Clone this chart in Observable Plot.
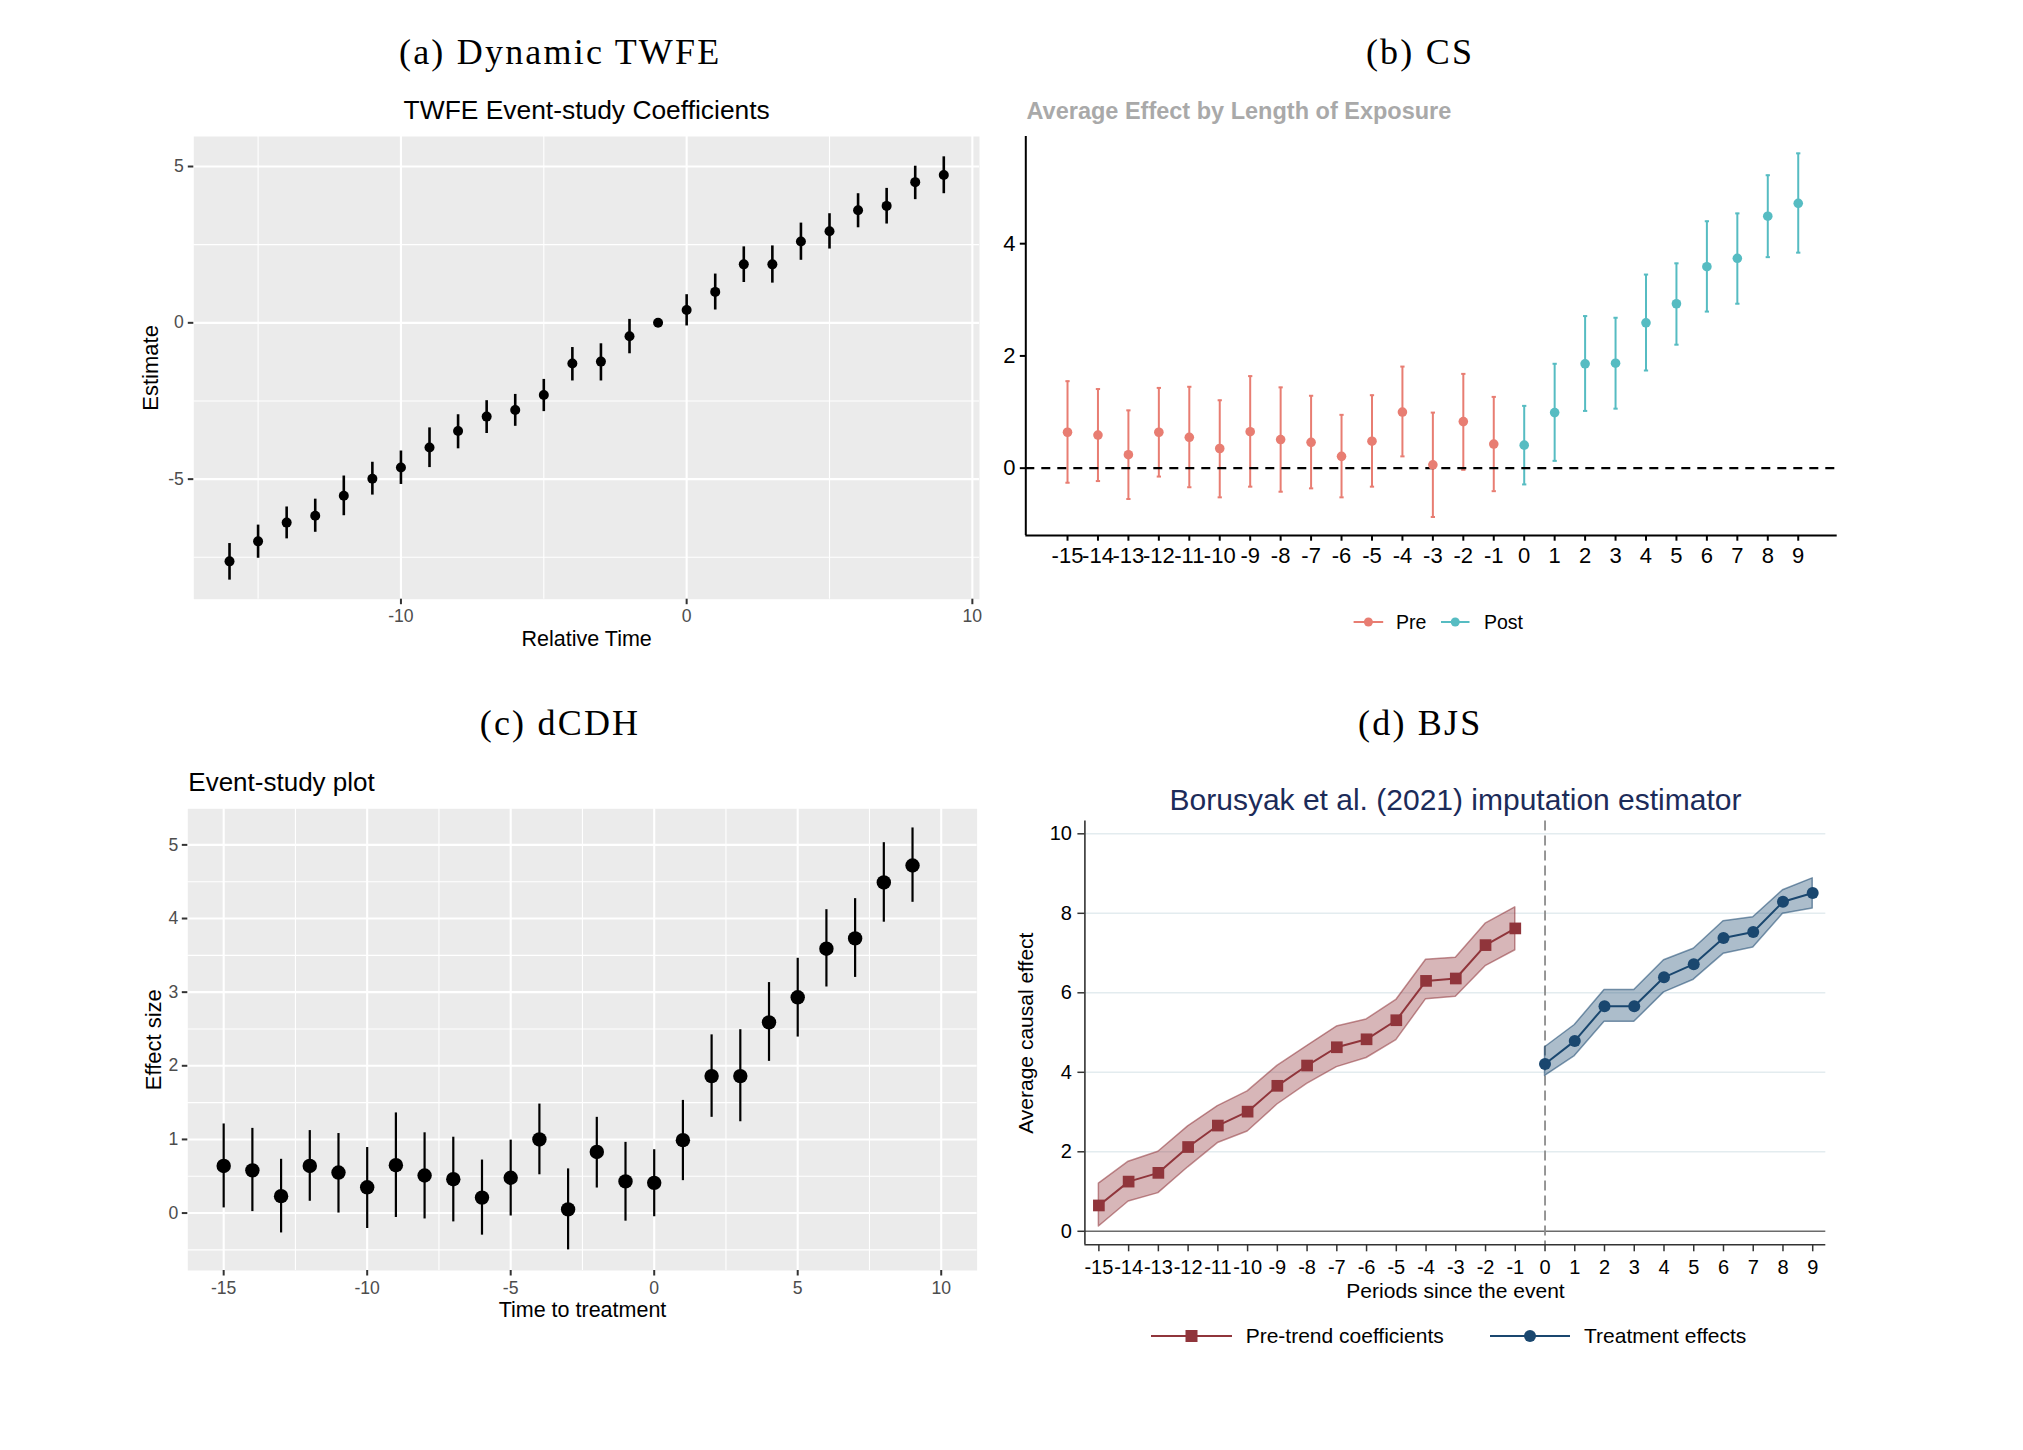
<!DOCTYPE html>
<html>
<head>
<meta charset="utf-8">
<script src="https://cdn.jsdelivr.net/npm/d3@7"></script>
<script src="https://cdn.jsdelivr.net/npm/@observablehq/plot@0.6"></script>
<style>
  body { margin: 0; background: #fff; }
  #root { position: relative; width: 2023px; height: 1450px; background: #fff; overflow: hidden; }
  #root svg { position: absolute; left: 0; top: 0; }
</style>
</head>
<body>
<div id="root"></div>
<script>
// ---------------- DATA ----------------
// (a) Dynamic TWFE
const twfeTime = [-16,-15,-14,-13,-12,-11,-10,-9,-8,-7,-6,-5,-4,-3,-2,-1,0,1,2,3,4,5,6,7,8,9];
const twfeEst  = [-7.63,-6.99,-6.39,-6.17,-5.53,-4.99,-4.63,-3.99,-3.46,-3.00,-2.79,-2.31,-1.30,-1.24,-0.43,0,0.41,0.99,1.87,1.87,2.60,2.93,3.60,3.74,4.50,4.73];
const twfeLow  = [-8.23,-7.53,-6.91,-6.70,-6.17,-5.51,-5.17,-4.63,-4.03,-3.54,-3.31,-2.84,-1.86,-1.86,-0.99,null,-0.10,0.41,1.29,1.27,2.00,2.36,3.04,3.16,3.94,4.13];
const twfeHigh = [-7.06,-6.47,-5.89,-5.64,-4.90,-4.46,-4.10,-3.36,-2.94,-2.49,-2.29,-1.81,-0.79,-0.67,0.11,null,0.90,1.56,2.43,2.46,3.19,3.49,4.13,4.30,5.01,5.31];
const twfeYTicks = [-5, 0, 5];
const twfeYMinor = [-7.5, -2.5, 2.5];
const twfeXTicks = [-10, 0, 10];
const twfeXMinor = [-15, -5, 5];

// (b) CS
const csTime = [-15,-14,-13,-12,-11,-10,-9,-8,-7,-6,-5,-4,-3,-2,-1,0,1,2,3,4,5,6,7,8,9];
const csEst  = [0.64,0.59,0.24,0.64,0.55,0.35,0.65,0.51,0.46,0.21,0.48,1.00,0.06,0.83,0.43,0.41,0.99,1.86,1.87,2.59,2.93,3.59,3.74,4.49,4.72];
const csLow  = [-0.26,-0.23,-0.55,-0.15,-0.34,-0.52,-0.33,-0.42,-0.36,-0.52,-0.33,0.21,-0.87,-0.03,-0.41,-0.29,0.13,1.02,1.06,1.74,2.20,2.79,2.93,3.76,3.84];
const csHigh = [1.55,1.41,1.03,1.43,1.45,1.21,1.64,1.44,1.29,0.95,1.30,1.81,0.99,1.68,1.27,1.11,1.86,2.71,2.68,3.45,3.65,4.40,4.54,5.22,5.61];
const csGroup = ["Pre","Pre","Pre","Pre","Pre","Pre","Pre","Pre","Pre","Pre","Pre","Pre","Pre","Pre","Pre","Post","Post","Post","Post","Post","Post","Post","Post","Post","Post"];
const csYTicks = [0, 2, 4];
const csXTicks = [-15,-14,-13,-12,-11,-10,-9,-8,-7,-6,-5,-4,-3,-2,-1,0,1,2,3,4,5,6,7,8,9];
const csGroups = ["Pre", "Post"];

// (c) dCDH
const dcdhTime = [-15,-14,-13,-12,-11,-10,-9,-8,-7,-6,-5,-4,-3,-2,-1,0,1,2,3,4,5,6,7,8,9];
const dcdhEst  = [0.64,0.58,0.23,0.64,0.55,0.35,0.65,0.51,0.46,0.21,0.48,1.00,0.05,0.83,0.43,0.41,0.99,1.86,1.86,2.59,2.93,3.59,3.73,4.49,4.72];
const dcdhLow  = [0.07,0.02,-0.27,0.16,0.00,-0.21,-0.06,-0.08,-0.12,-0.30,-0.04,0.52,-0.50,0.34,-0.11,-0.05,0.44,1.30,1.24,2.06,2.39,3.07,3.20,3.95,4.22];
const dcdhHigh = [1.21,1.15,0.73,1.12,1.08,0.89,1.36,1.09,1.03,0.72,0.99,1.48,0.60,1.30,0.96,0.86,1.53,2.42,2.49,3.13,3.46,4.12,4.27,5.03,5.23];
const dcdhYTicks = [0, 1, 2, 3, 4, 5];
const dcdhYMinor = [-0.5, 0.5, 1.5, 2.5, 3.5, 4.5];
const dcdhXTicks = [-15, -10, -5, 0, 5, 10];
const dcdhXMinor = [-12.5, -7.5, -2.5, 2.5, 7.5];

// (d) BJS
const bjsPreTime = [-15,-14,-13,-12,-11,-10,-9,-8,-7,-6,-5,-4,-3,-2,-1];
const bjsPreEst  = [0.65,1.25,1.47,2.12,2.66,3.01,3.66,4.17,4.63,4.83,5.31,6.30,6.36,7.20,7.62];
const bjsPreLow  = [0.12,0.75,0.96,1.61,2.22,2.51,3.19,3.71,4.13,4.36,4.81,5.84,5.90,6.67,7.07];
const bjsPreHigh = [1.20,1.75,2.00,2.64,3.15,3.52,4.16,4.66,5.15,5.33,5.82,6.83,6.88,7.74,8.15];
const bjsPostTime = [0,1,2,3,4,5,6,7,8,9];
const bjsPostEst  = [4.21,4.79,5.66,5.66,6.39,6.72,7.38,7.53,8.29,8.51];
const bjsPostLow  = [3.91,4.41,5.27,5.27,6.01,6.33,6.98,7.14,7.99,8.12];
const bjsPostHigh = [4.63,5.19,6.07,6.07,6.82,7.11,7.80,7.90,8.58,8.88];
const bjsYTicks = [0, 2, 4, 6, 8, 10];
const bjsGrid = [2, 4, 6, 8, 10];
const bjsXTicks = [-15,-14,-13,-12,-11,-10,-9,-8,-7,-6,-5,-4,-3,-2,-1,0,1,2,3,4,5,6,7,8,9];

// ---------------- LAYOUT / STYLE ----------------
const W = 2023, H = 1450;
const SANS = "'Liberation Sans', Arial, Helvetica, sans-serif";
const SERIF = "'Liberation Serif', 'Times New Roman', serif";
const PRE_COL = "#e87d72", POST_COL = "#56bcc2";
const MAROON = "#90353B", NAVY = "#1A476F";
const fmt = d => String(d);

const frameA = {left: 193.3, top: 136, right: 979, bottom: 598.7};
const frameB = {left: 1025.3, top: 136, right: 1836.7, bottom: 535};
const frameC = {left: 187.3, top: 808.3, right: 976.6, bottom: 1270};
const frameD = {left: 1084.4, top: 820.6, right: 1825.3, bottom: 1244.3};

const domA = {x: [-17.25, 10.25], y: [-8.84, 5.96]};
const domB = {x: [-16.37, 10.28], y: [-1.2, 5.91]};
const domC = {x: [-16.25, 11.25], y: [-0.78, 5.49]};
const domD = {x: [-15.47, 9.44], y: [-0.34, 10.32]};

const zip = (t, e, l, h, g) => t.map((v, i) => ({t: v, est: e[i], lo: l[i], hi: h[i], g: g ? g[i] : null}));
const rowsA = zip(twfeTime, twfeEst, twfeLow, twfeHigh);
const rowsB = zip(csTime, csEst, csLow, csHigh, csGroup);
const rowsC = zip(dcdhTime, dcdhEst, dcdhLow, dcdhHigh);
const rowsDpre = zip(bjsPreTime, bjsPreEst, bjsPreLow, bjsPreHigh);
const rowsDpost = zip(bjsPostTime, bjsPostEst, bjsPostLow, bjsPostHigh);

const root = document.getElementById("root");

const place = frame => (txt, x, y, o = {}) => Plot.text([txt], {
  text: d => d, frameAnchor: "top-left", dx: x - frame.left, dy: y - frame.top,
  textAnchor: "middle", lineAnchor: "middle", fill: "#000", fontFamily: SANS, ...o
});

function panel(frame, dom, marks, extra = {}) {
  const svg = Plot.plot({
    width: W, height: H,
    marginLeft: frame.left, marginTop: frame.top,
    marginRight: W - frame.right, marginBottom: H - frame.bottom,
    x: {domain: dom.x, axis: null},
    y: {domain: dom.y, axis: null},
    style: {fontFamily: SANS, background: "transparent", overflow: "visible"},
    ...extra,
    marks
  });
  svg.querySelectorAll("text").forEach(t => {
    if (/^\([abcd]\) /.test(t.textContent)) t.style.letterSpacing = "2.2px";
  });
  root.appendChild(svg);
}

const serifTitle = {fontFamily: SERIF, fontSize: 36};

// ---------------- (a) ----------------
{
  const T = place(frameA);
  panel(frameA, domA, [
    Plot.frame({fill: "#EBEBEB", stroke: "none"}),
    Plot.gridY(twfeYMinor, {stroke: "#fff", strokeOpacity: 1, strokeWidth: 1.1}),
    Plot.gridX(twfeXMinor, {stroke: "#fff", strokeOpacity: 1, strokeWidth: 1.1}),
    Plot.gridY(twfeYTicks, {stroke: "#fff", strokeOpacity: 1, strokeWidth: 2.1}),
    Plot.gridX(twfeXTicks, {stroke: "#fff", strokeOpacity: 1, strokeWidth: 2.1}),
    Plot.axisY(twfeYTicks, {tickSize: 5.5, tickPadding: 4.5, fontSize: 17.6, stroke: "#333333", fill: "#4D4D4D", strokeWidth: 2, label: null, tickFormat: fmt}),
    Plot.axisX(twfeXTicks, {tickSize: 5.5, tickPadding: 5, fontSize: 17.6, stroke: "#333333", fill: "#4D4D4D", strokeWidth: 2, label: null, tickFormat: fmt}),
    Plot.ruleX(rowsA.filter(d => d.lo != null), {x: "t", y1: "lo", y2: "hi", stroke: "#000", strokeWidth: 2.6}),
    Plot.dot(rowsA, {x: "t", y: "est", r: 5, fill: "#000"}),
    T("(a) Dynamic TWFE", 559.7, 51.5, serifTitle),
    T("TWFE Event-study Coefficients", 586.2, 110.5, {fontSize: 26.4}),
    T("Estimate", 150.8, 367.4, {fontSize: 22, rotate: -90}),
    T("Relative Time", 586.2, 638.3, {fontSize: 21.5})
  ]);
}

// ---------------- (b) ----------------
{
  const T = place(frameB);
  panel(frameB, domB, [
    Plot.ruleX([domB.x[0]], {stroke: "#000", strokeWidth: 2}),
    Plot.ruleY([domB.y[0]], {stroke: "#000", strokeWidth: 2}),
    Plot.axisY(csYTicks, {tickSize: 5.5, tickPadding: 4.8, fontSize: 22, stroke: "#000", fill: "#000", strokeWidth: 2, label: null, tickFormat: fmt}),
    Plot.axisX(csXTicks, {tickSize: 5.7, tickPadding: 6, fontSize: 22, stroke: "#000", fill: "#000", strokeWidth: 2, label: null, tickFormat: fmt}),
    Plot.ruleX(rowsB, {x: "t", y1: "lo", y2: "hi", stroke: "g", strokeWidth: 2}),
    Plot.link(rowsB, {x1: d => d.t - 0.07, x2: d => d.t + 0.07, y1: "hi", y2: "hi", stroke: "g", strokeWidth: 2}),
    Plot.link(rowsB, {x1: d => d.t - 0.07, x2: d => d.t + 0.07, y1: "lo", y2: "lo", stroke: "g", strokeWidth: 2}),
    Plot.ruleY([0], {stroke: "#000", strokeWidth: 2.2, strokeDasharray: "9,7"}),
    Plot.dot(rowsB, {x: "t", y: "est", r: 4.8, fill: "g"}),
    T("(b) CS", 1419.5, 51.5, serifTitle),
    T("Average Effect by Length of Exposure", 1026, 110.8, {fontSize: 23.5, fontWeight: "bold", fill: "#A9A9A9", textAnchor: "start"})
  ], {color: {domain: csGroups, range: [PRE_COL, POST_COL]}});
}

// ---------------- (c) ----------------
{
  const T = place(frameC);
  panel(frameC, domC, [
    Plot.frame({fill: "#EBEBEB", stroke: "none"}),
    Plot.gridY(dcdhYMinor, {stroke: "#fff", strokeOpacity: 1, strokeWidth: 1.1}),
    Plot.gridX(dcdhXMinor, {stroke: "#fff", strokeOpacity: 1, strokeWidth: 1.1}),
    Plot.gridY(dcdhYTicks, {stroke: "#fff", strokeOpacity: 1, strokeWidth: 2.1}),
    Plot.gridX(dcdhXTicks, {stroke: "#fff", strokeOpacity: 1, strokeWidth: 2.1}),
    Plot.axisY(dcdhYTicks, {tickSize: 5.5, tickPadding: 4.1, fontSize: 17.6, stroke: "#333333", fill: "#4D4D4D", strokeWidth: 2, label: null, tickFormat: fmt}),
    Plot.axisX(dcdhXTicks, {tickSize: 5.5, tickPadding: 5, fontSize: 17.6, stroke: "#333333", fill: "#4D4D4D", strokeWidth: 2, label: null, tickFormat: fmt}),
    Plot.ruleX(rowsC, {x: "t", y1: "lo", y2: "hi", stroke: "#000", strokeWidth: 2.2}),
    Plot.dot(rowsC, {x: "t", y: "est", r: 7.2, fill: "#000"}),
    T("(c) dCDH", 559.5, 722.5, serifTitle),
    T("Event-study plot", 187.8, 782.2, {fontSize: 26, textAnchor: "start"}),
    T("Effect size", 153.2, 1039.2, {fontSize: 22, rotate: -90}),
    T("Time to treatment", 582, 1309.8, {fontSize: 21.5})
  ]);
}

// ---------------- (d) ----------------
{
  const T = place(frameD);
  panel(frameD, domD, [
    Plot.gridY(bjsGrid, {stroke: "#E3ECEF", strokeOpacity: 1, strokeWidth: 1.4}),
    Plot.ruleY([0], {stroke: "#6b6b6b", strokeWidth: 1.4}),
    Plot.ruleX([0], {stroke: "#8c8c8c", strokeWidth: 1.8, strokeDasharray: "10,5"}),
    Plot.ruleX([domD.x[0]], {stroke: "#333", strokeWidth: 1.6}),
    Plot.ruleY([domD.y[0]], {stroke: "#333", strokeWidth: 1.6}),
    Plot.axisY(bjsYTicks, {tickSize: 7, tickPadding: 6, fontSize: 20, stroke: "#333", fill: "#000", strokeWidth: 1.5, label: null, tickFormat: fmt}),
    Plot.axisX(bjsXTicks, {tickSize: 7, tickPadding: 8.3, fontSize: 20, stroke: "#333", fill: "#000", strokeWidth: 1.5, label: null, tickFormat: fmt}),
    Plot.areaY(rowsDpre, {x: "t", y1: "lo", y2: "hi", fill: MAROON, fillOpacity: 0.36, stroke: MAROON, strokeOpacity: 0.55, strokeWidth: 1.5}),
    Plot.areaY(rowsDpost, {x: "t", y1: "lo", y2: "hi", fill: NAVY, fillOpacity: 0.36, stroke: NAVY, strokeOpacity: 0.55, strokeWidth: 1.5}),
    Plot.lineY(rowsDpre, {x: "t", y: "est", stroke: MAROON, strokeWidth: 2}),
    Plot.lineY(rowsDpost, {x: "t", y: "est", stroke: NAVY, strokeWidth: 2}),
    Plot.dot(rowsDpre, {x: "t", y: "est", symbol: "square", r: 6.6, fill: MAROON}),
    Plot.dot(rowsDpost, {x: "t", y: "est", symbol: "circle", r: 6, fill: NAVY}),
    T("(d) BJS", 1419.7, 722.5, serifTitle),
    T("Borusyak et al. (2021) imputation estimator", 1455, 799.8, {fontSize: 30, fill: "#1C2B59"}),
    T("Average causal effect", 1025.6, 1032.7, {fontSize: 21, rotate: -90}),
    T("Periods since the event", 1455, 1291, {fontSize: 21})
  ]);
}

// ---------------- legends ----------------
{
  const lg = d3.create("svg").attr("width", W).attr("height", H).style("font-family", SANS);
  const items = [
    {label: "Pre", color: PRE_COL, sym: "circle", size: 4.5, y: 622, x0: 1353.6, x1: 1383.2, tx: 1396, fs: 19.5, lw: 2},
    {label: "Post", color: POST_COL, sym: "circle", size: 4.5, y: 622, x0: 1441, x1: 1469.5, tx: 1484, fs: 19.5, lw: 2},
    {label: "Pre-trend coefficients", color: MAROON, sym: "square", size: 12, y: 1336, x0: 1151, x1: 1232, tx: 1245.7, fs: 21, lw: 2},
    {label: "Treatment effects", color: NAVY, sym: "circle", size: 6, y: 1336, x0: 1490, x1: 1570, tx: 1584, fs: 21, lw: 2}
  ];
  for (const it of items) {
    const g = lg.append("g");
    g.append("line").attr("x1", it.x0).attr("x2", it.x1).attr("y1", it.y).attr("y2", it.y)
      .attr("stroke", it.color).attr("stroke-width", it.lw);
    const cx = (it.x0 + it.x1) / 2;
    if (it.sym === "square") {
      g.append("rect").attr("x", cx - it.size / 2).attr("y", it.y - it.size / 2)
        .attr("width", it.size).attr("height", it.size).attr("fill", it.color);
    } else {
      g.append("circle").attr("cx", cx).attr("cy", it.y).attr("r", it.size).attr("fill", it.color);
    }
    g.append("text").attr("x", it.tx).attr("y", it.y).attr("dy", "0.35em")
      .attr("font-size", it.fs).attr("fill", "#000").text(it.label);
  }
  root.appendChild(lg.node());
}
</script>
</body>
</html>
